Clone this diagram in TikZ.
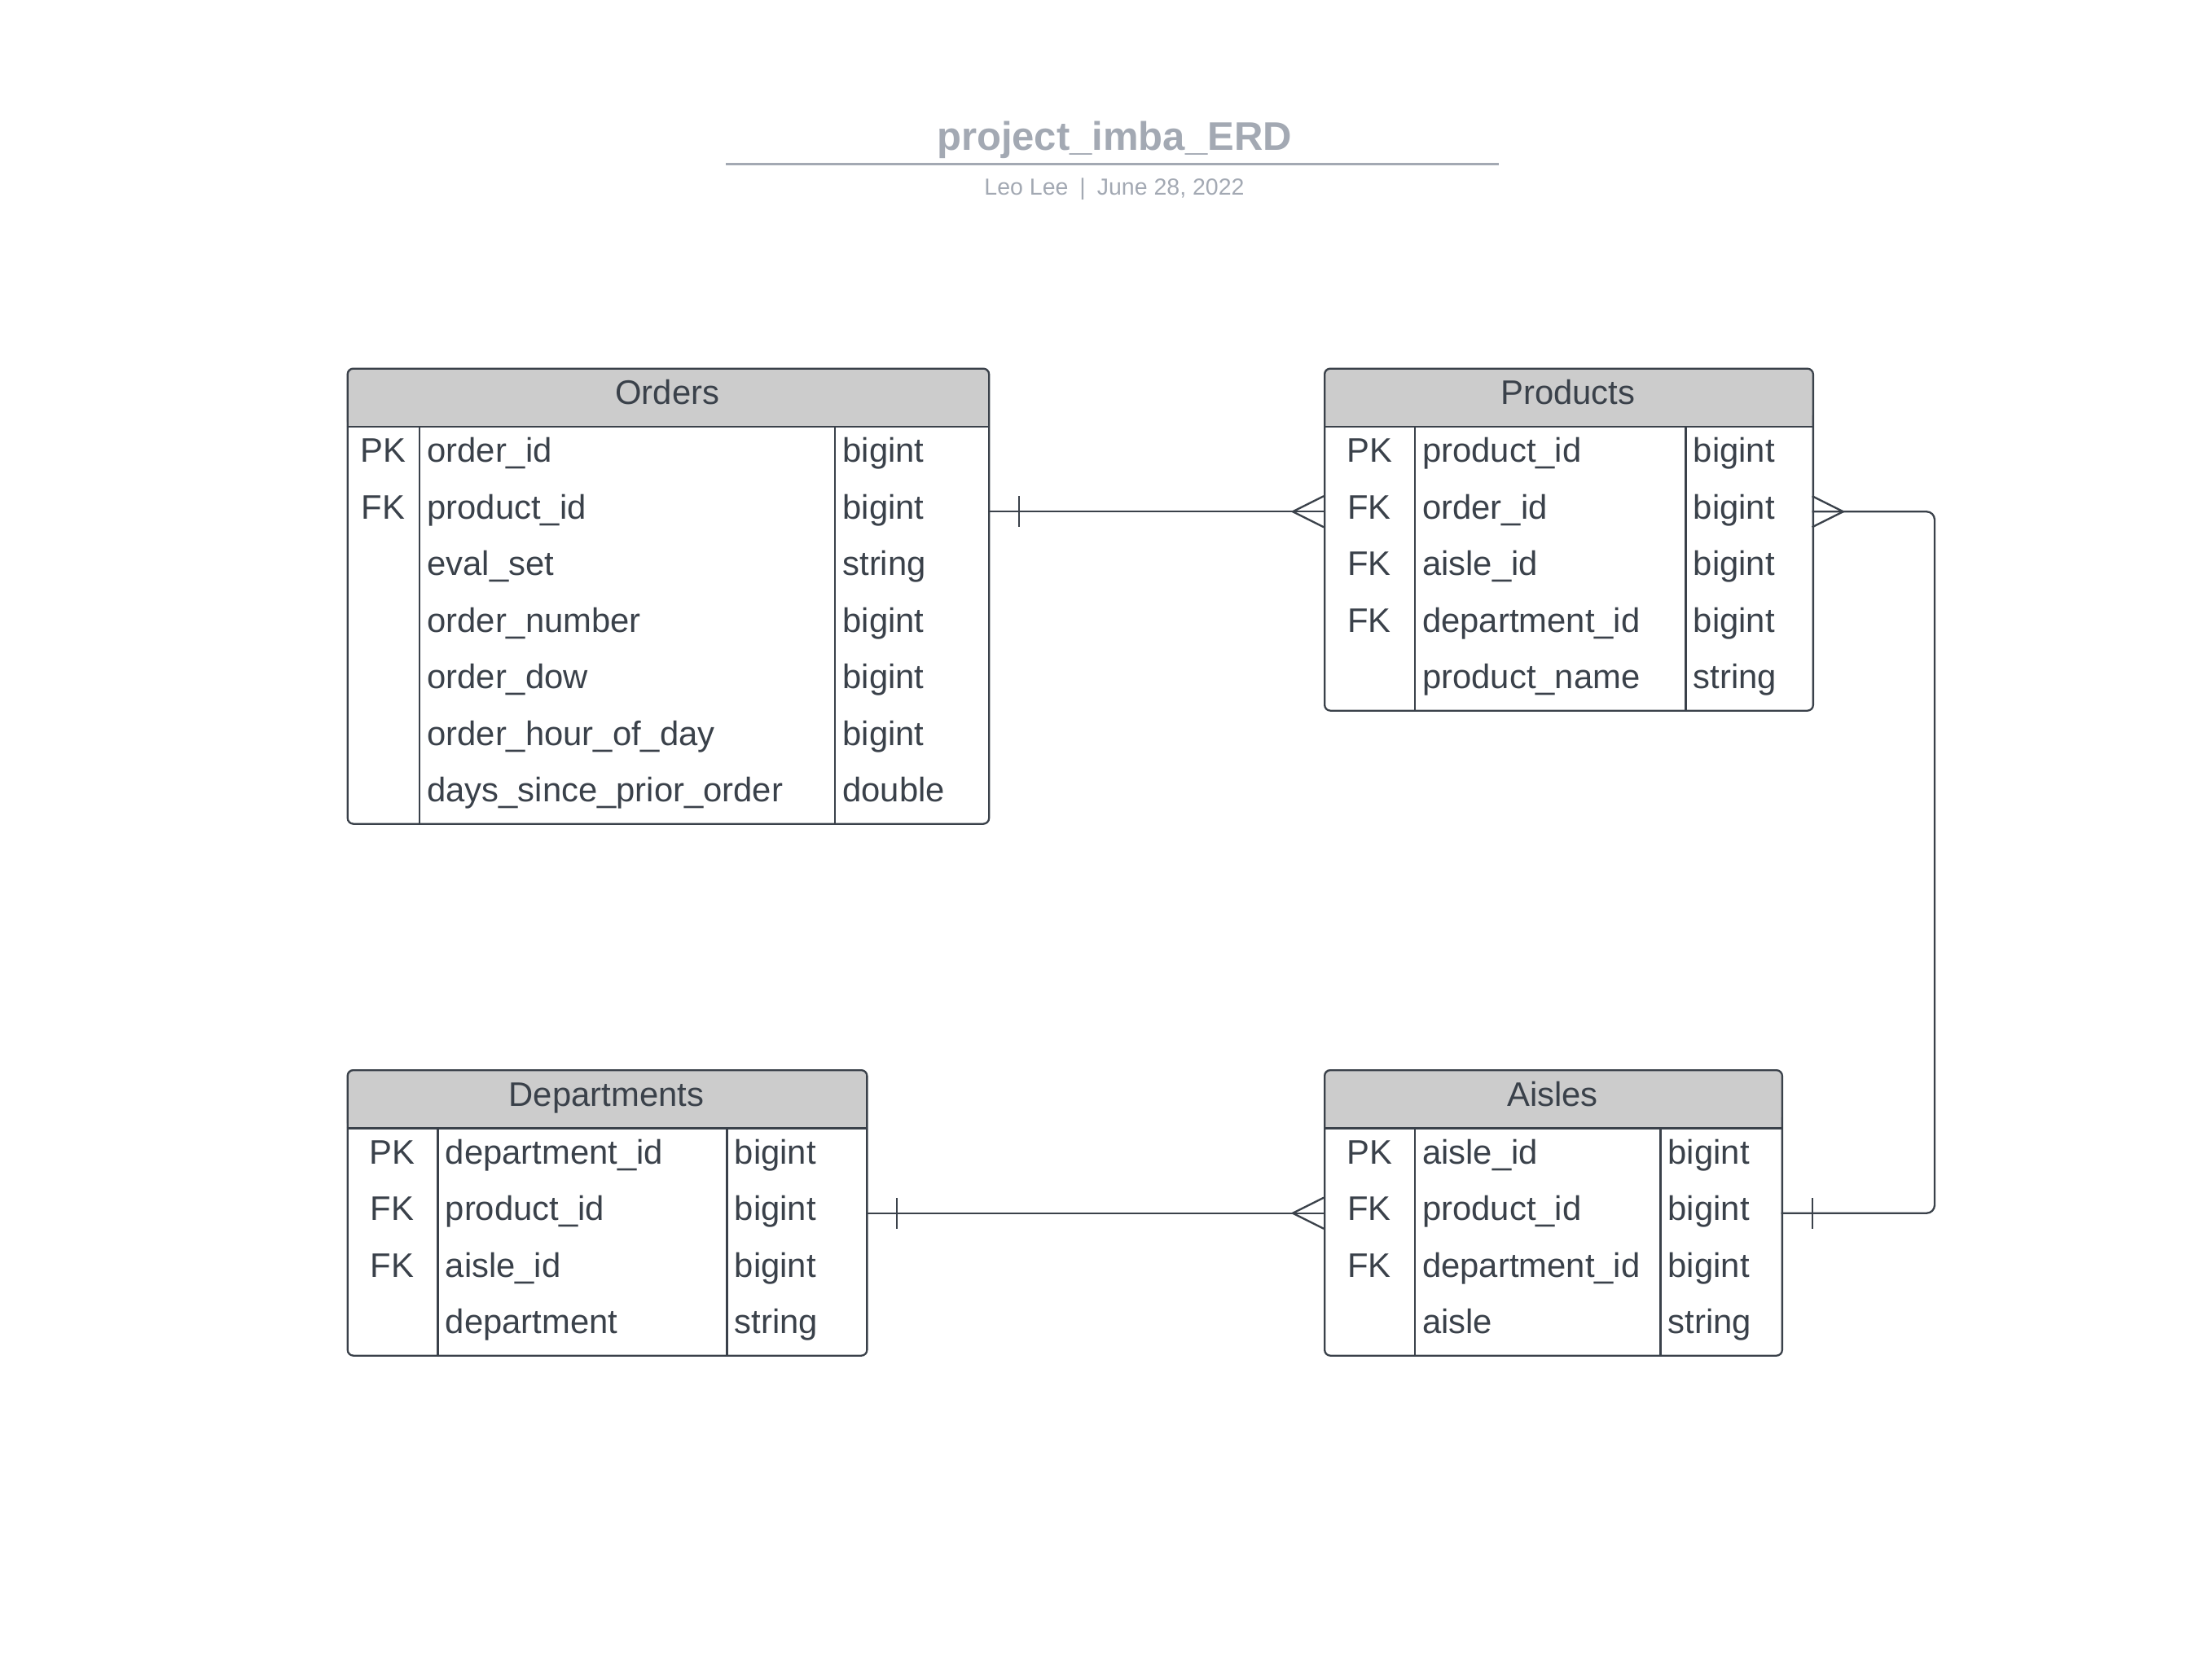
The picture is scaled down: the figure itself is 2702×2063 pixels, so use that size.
\documentclass[tikz,border=0pt]{standalone}
\usepackage{fontspec}
\setmainfont{Liberation Sans}
\definecolor{ink}{HTML}{3A414A}
\definecolor{headfill}{HTML}{CCCCCC}
\definecolor{titlegray}{HTML}{A3A9B3}
\tikzset{
  cell/.style={font=\fontsize{41.8}{50}\selectfont, text=ink, inner sep=0pt},
  tblframe/.style={draw=ink, line width=2.3pt, rounded corners=7pt, inner sep=0pt, anchor=north west},
  rule/.style={draw=ink, line width=2.3pt},
  conn/.style={draw=ink, line width=2.3pt},
  tickmark/.style={draw=ink, line width=2pt},
}
% #1 name, #2 x1, #3 x2, #4 ytop, #5 nrows, #6 div1, #7 div2, #8 title, #9 rows
\newcommand\erdtable[9]{%
  \pgfmathsetmacro\yh{#4+72.5}%
  \pgfmathsetmacro\yb{\yh+69.5*#5}%
  \fill[headfill, rounded corners=7pt] (#2,#4) rectangle (#3,\yh);
  \fill[headfill] (#2,\yh-14) rectangle (#3,\yh);
  \node[tblframe, minimum width={#3-#2}, minimum height={\yb-#4}] (#1) at (#2,#4) {};
  \draw[rule] (#2,\yh) -- (#3,\yh);
  \draw[rule] (#6,\yh) -- (#6,\yb);
  \draw[rule] (#7,\yh) -- (#7,\yb);
  \node[cell, anchor=base] (#1-title) at ({(#2+#3)/2},{#4+45}) {#8};
  \foreach \k/\n/\t [count=\i] in {#9} {
    \pgfmathsetmacro\yy{\yh+69.5*(\i-0.5)}
    \coordinate (#1-L\i) at (#2,\yy);
    \coordinate (#1-R\i) at (#3,\yy);
    \node[cell, anchor=base] (#1-k\i) at ({(#2+#6)/2},\yy+9) {\k};
    \node[cell, anchor=base west] (#1-n\i) at (#6+9,\yy+9) {\n};
    \node[cell, anchor=base west] (#1-t\i) at (#7+9,\yy+9) {\t};
  }
}
\begin{document}
\begin{tikzpicture}[x=1pt,y=-1pt]
\useasboundingbox (0,0) rectangle (2702,2063);

% title block
\node[anchor=base, font=\bfseries\fontsize{49}{58}\selectfont, text=titlegray, inner sep=0pt] (title) at (1368,184.5) {project\_imba\_ERD};
\draw[titlegray, line width=3.5pt] (891,201.6) -- (1840,201.6);
\node[anchor=base, font=\fontsize{28.5}{34}\selectfont, text=titlegray, inner sep=0pt] (subtitle) at (1368,239.5) {Leo Lee\hspace{14pt}|\hspace{14pt}June 28, 2022};

% tables
\erdtable{orders}{425.6}{1213}{451.5}{7}{515.2}{1025.3}{Orders}{%
  PK/order\_id/bigint, FK/product\_id/bigint, {}/eval\_set/string,
  {}/order\_number/bigint, {}/order\_dow/bigint, {}/order\_hour\_of\_day/bigint,
  {}/days\_since\_prior\_order/double}
\erdtable{products}{1625}{2224.7}{451.5}{5}{1737}{2069.6}{Products}{%
  PK/product\_id/bigint, FK/order\_id/bigint, FK/aisle\_id/bigint,
  FK/department\_id/bigint, {}/product\_name/string}
\erdtable{departments}{425.6}{1063.2}{1313}{4}{537.6}{892.6}{Departments}{%
  PK/department\_id/bigint, FK/product\_id/bigint, FK/aisle\_id/bigint,
  {}/department/string}
\erdtable{aisles}{1625}{2186.7}{1313}{4}{1737}{2038.5}{Aisles}{%
  PK/aisle\_id/bigint, FK/product\_id/bigint, FK/department\_id/bigint,
  {}/aisle/string}

% connectors
\coordinate (route) at (2375,0);
% Orders -> Products
\draw[conn] (orders-R2) -- (products-L2);
\draw[tickmark] (orders-R2) ++(38,-19) -- ++(0,38);
\draw[conn] (products-L2) ++(0,-19) -- ++(-38,19) -- ++(38,19);
% Products -> Aisles
\draw[conn, rounded corners=10pt] (products-R2) -- (products-R2 -| route) -- (aisles-R2 -| route) -- (aisles-R2);
\draw[conn] (products-R2) ++(0,-19) -- ++(38,19) -- ++(-38,19);
\draw[tickmark] (aisles-R2) ++(38.6,-19) -- ++(0,38);
% Departments -> Aisles
\draw[conn] (departments-R2) -- (aisles-L2);
\draw[tickmark] (departments-R2) ++(38,-19) -- ++(0,38);
\draw[conn] (aisles-L2) ++(0,-19) -- ++(-38,19) -- ++(38,19);
\end{tikzpicture}
\end{document}
